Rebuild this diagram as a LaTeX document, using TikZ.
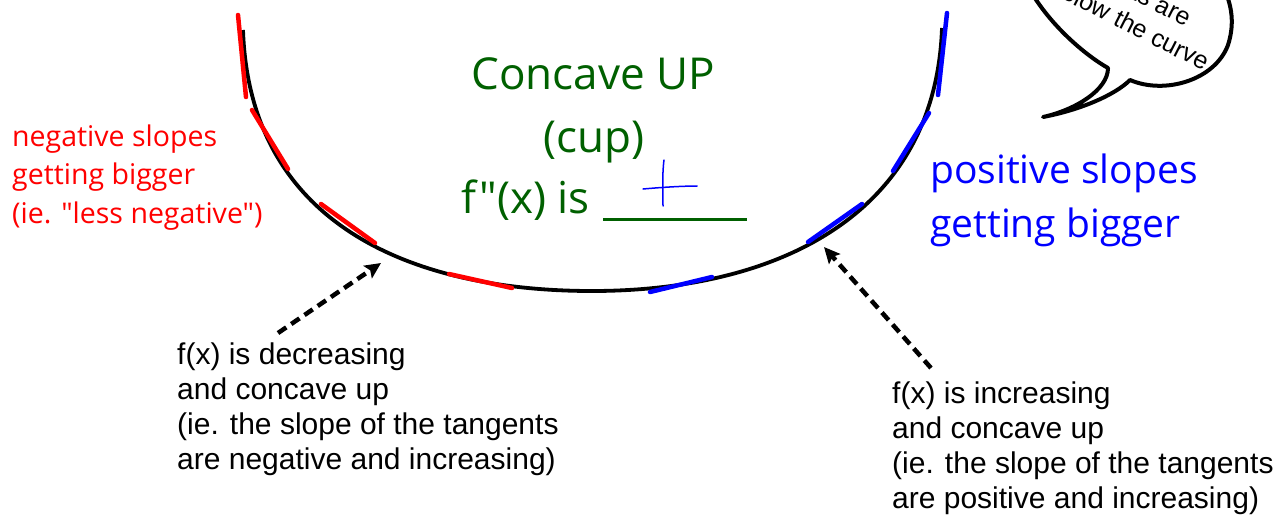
\documentclass[tikz,border=0pt]{standalone}
\usepackage{fontspec}
\setmainfont{Liberation Sans}
\newfontfamily\handfont{Open Sans}
\usetikzlibrary{arrows.meta}
\definecolor{cupgreen}{RGB}{0,96,0}

\begin{document}
\begin{tikzpicture}[x=1pt, y=-1pt,
  lbl/.style={inner sep=0pt, align=left, font=\fontsize{30}{35}\selectfont},
  bubbletext/.style={inner sep=0pt, rotate=-27, font=\fontsize{25}{30}\selectfont},
  greenlbl/.style={inner sep=0pt, text=cupgreen, font=\handfont\fontsize{44}{60}\selectfont},
  redlbl/.style={inner sep=0pt, align=left, text=red, font=\handfont\fontsize{28.5}{38.5}\selectfont},
  bluelbl/.style={inner sep=0pt, align=left, text=blue, font=\handfont\fontsize{39}{54}\selectfont},
  cupline/.style={draw=black, line width=3.8pt},
  redtan/.style={draw=red, line width=4.5pt, line cap=round},
  bluetan/.style={draw=blue, line width=4.5pt, line cap=round},
  pointer/.style={draw=black, line width=4.5pt, dash pattern=on 10pt off 6pt,
    -{Stealth[length=16pt, width=15pt, inset=3pt]}}
]
\clip (0,0) rectangle (1273,515);

% speech bubble, cut by the top edge
\draw[line width=4pt, fill=white, line join=round]
  (1030,-10) .. controls (1050,25) and (1085,55) .. (1108,68)
  .. controls (1108,90) and (1075,110) .. (1043,117)
  .. controls (1080,110) and (1115,95) .. (1130,80)
  .. controls (1165,95) and (1215,80) .. (1228,45)
  .. controls (1236,20) and (1230,0) .. (1222,-15) -- cycle;
\node[bubbletext, anchor=base east] (bub1) at (1186,27) {The tangents are};
\node[bubbletext, anchor=base east] (bub2) at (1204,71) {below the curve};

% the cup
\draw[cupline] (243,30) .. controls (250,230) and (420,291) .. (592,291)
  .. controls (770,291) and (935,220) .. (942,28);
\draw[redtan] (238,15) -- (246,97);
\draw[redtan] (252,110) -- (288,169);
\draw[redtan] (321,204) -- (375,243);
\draw[redtan] (449,274) -- (512,288);
\draw[bluetan] (650,292) -- (712,277);
\draw[bluetan] (808,242) -- (862,204);
\draw[bluetan] (893,171) -- (929,113);
\draw[bluetan] (938,95) -- (947,13);

% green title
\node[greenlbl, anchor=base] (gl1) at (593,89) {Concave UP};
\node[greenlbl, anchor=base] (gl2) at (594,152) {(cup)};
\node[greenlbl, anchor=base east] (gl3) at (590,213) {f"(x) is};
\coordinate (blankL) at (603,219);
\coordinate (blankR) at (747,219);
\draw[cupgreen, line width=3pt] (blankL) -- (blankR);
\draw[blue, line width=1.5pt, line cap=round] (643,189) .. controls (665,187) and (685,186) .. (697,186);
\draw[blue, line width=1.5pt, line cap=round] (664,160) .. controls (662,175) and (663,195) .. (663,206);

% slope labels (base = last line)
\node[redlbl, anchor=base west] (tneg) at (12,223) {negative slopes\\getting bigger\\(ie. "less negative")};
\node[bluelbl, anchor=base west] (tpos) at (930,237) {positive slopes\\getting bigger};

% bottom labels and pointers
\node[lbl, anchor=base west] (tdec) at (177,469) {f(x) is decreasing\\and concave up\\(ie. the slope of the tangents\\are negative and increasing)};
\node[lbl, anchor=base west] (tinc) at (892,508) {f(x) is increasing\\and concave up\\(ie. the slope of the tangents\\are positive and increasing)};
\coordinate (decTail) at (278,333);
\coordinate (decTip) at (381,263);
\coordinate (incTail) at (931,368);
\coordinate (incTip) at (824,247);
\draw[pointer] (decTail) -- (decTip);
\draw[pointer] (incTail) -- (incTip);

\end{tikzpicture}
\end{document}
